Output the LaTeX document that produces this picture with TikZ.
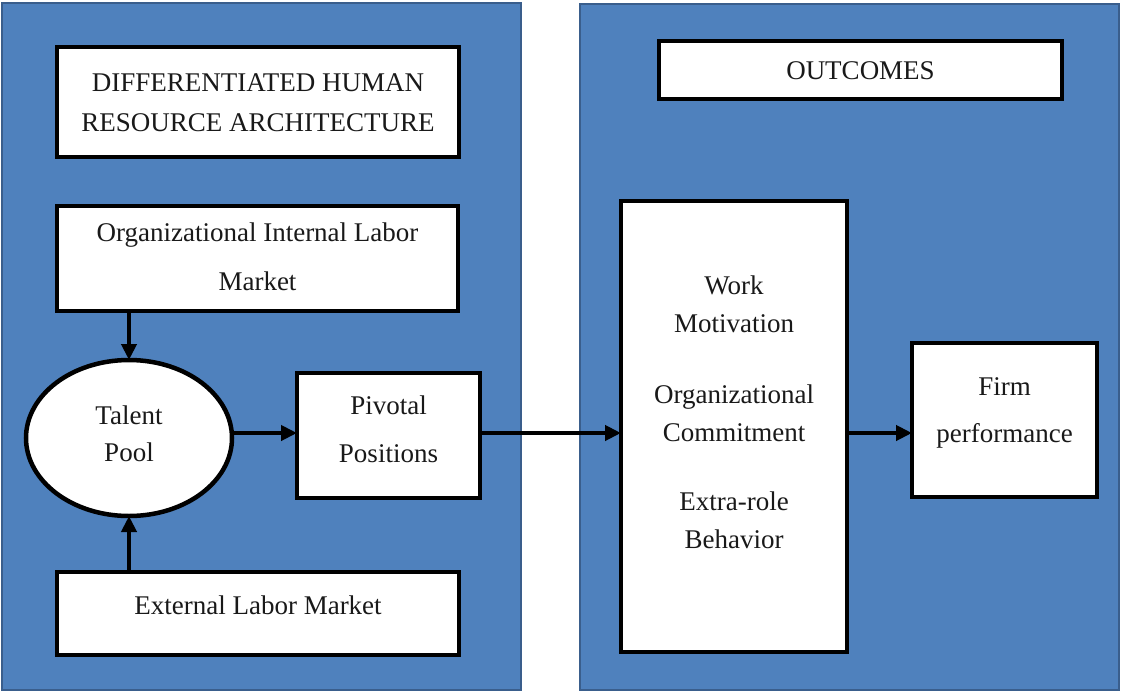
\documentclass[tikz,border=0pt]{standalone}
\usepackage{fontspec}
\setmainfont{Liberation Serif}
\usetikzlibrary{arrows.meta,shapes.geometric}
\definecolor{panelfill}{HTML}{4F81BD}
\definecolor{paneledge}{HTML}{3A5E8C}
\begin{document}
\begin{tikzpicture}[x=1pt,y=-1pt,
  panel/.style={draw=paneledge,fill=panelfill,line width=2.5pt,inner sep=0pt,outer sep=0pt},
  wbox/.style={draw=black,fill=white,line width=4.5pt,inner sep=0pt,outer sep=0pt},
  txt/.style={align=center,inner sep=0pt,text=black!90},
  flow/.style={line width=4pt,-{Triangle[length=16pt,width=15pt]}}]
  \useasboundingbox[fill=white] (0,0) rectangle (1123,693);

  % two background panels
  \node[panel,minimum width=519pt,minimum height=687pt] (lp) at (261.5,346.5) {};
  \node[panel,minimum width=539pt,minimum height=686pt] (rp) at (849.5,347) {};

  % left panel boxes
  \node[wbox,minimum width=402pt,minimum height=110pt] (title) at (258,102) {};
  \node[wbox,minimum width=401pt,minimum height=105pt] (int) at (257.5,258.5) {};
  \node[wbox,minimum width=402pt,minimum height=83pt] (ext) at (258,613.5) {};
  \node[wbox,ellipse,minimum width=206pt,minimum height=156pt] (tp) at (129,438) {};
  \node[wbox,minimum width=183pt,minimum height=125pt] (piv) at (388.5,435.5) {};

  % right panel boxes
  \node[wbox,minimum width=403pt,minimum height=58pt] (outc) at (860.5,70) {};
  \node[wbox,minimum width=226pt,minimum height=451pt] (big) at (734,426.5) {};
  \node[wbox,minimum width=185pt,minimum height=154pt] (firm) at (1004.5,420) {};

  % labels
  \node[txt,font=\fontsize{27}{40}\selectfont] (title-t) at (258,103) {DIFFERENTIATED HUMAN\\RESOURCE ARCHITECTURE};
  \node[txt,font=\fontsize{27}{49}\selectfont] (int-t) at (257.5,257) {Organizational Internal Labor\\Market};
  \node[txt,font=\fontsize{27}{38}\selectfont] (ext-t) at (258,605) {External Labor Market};
  \node[txt,font=\fontsize{27}{37}\selectfont] (tp-t) at (129,434) {Talent\\Pool};
  \node[txt,font=\fontsize{27}{48}\selectfont] (piv-t) at (388.5,429) {Pivotal\\Positions};
  \node[txt,font=\fontsize{27}{38}\selectfont] (outc-t) at (860.5,71) {OUTCOMES};
  \node[txt,font=\fontsize{27}{38}\selectfont] (big-t) at (734,412)
    {Work\\Motivation\\[33pt]Organizational\\Commitment\\[31pt]Extra-role\\Behavior};
  \node[txt,font=\fontsize{27}{47}\selectfont] (firm-t) at (1004.5,413) {Firm\\performance};

  % connectors
  \coordinate (row) at (0,433);
  \draw[flow] (tp.north |- int.south) -- (tp.north);
  \draw[flow] (tp.south |- ext.north) -- (tp.south);
  \draw[flow] (tp.east |- row) -- (piv.west |- row);
  \draw[flow] (piv.east |- row) -- (big.west |- row);
  \draw[flow] (big.east |- row) -- (firm.west |- row);
\end{tikzpicture}
\end{document}
